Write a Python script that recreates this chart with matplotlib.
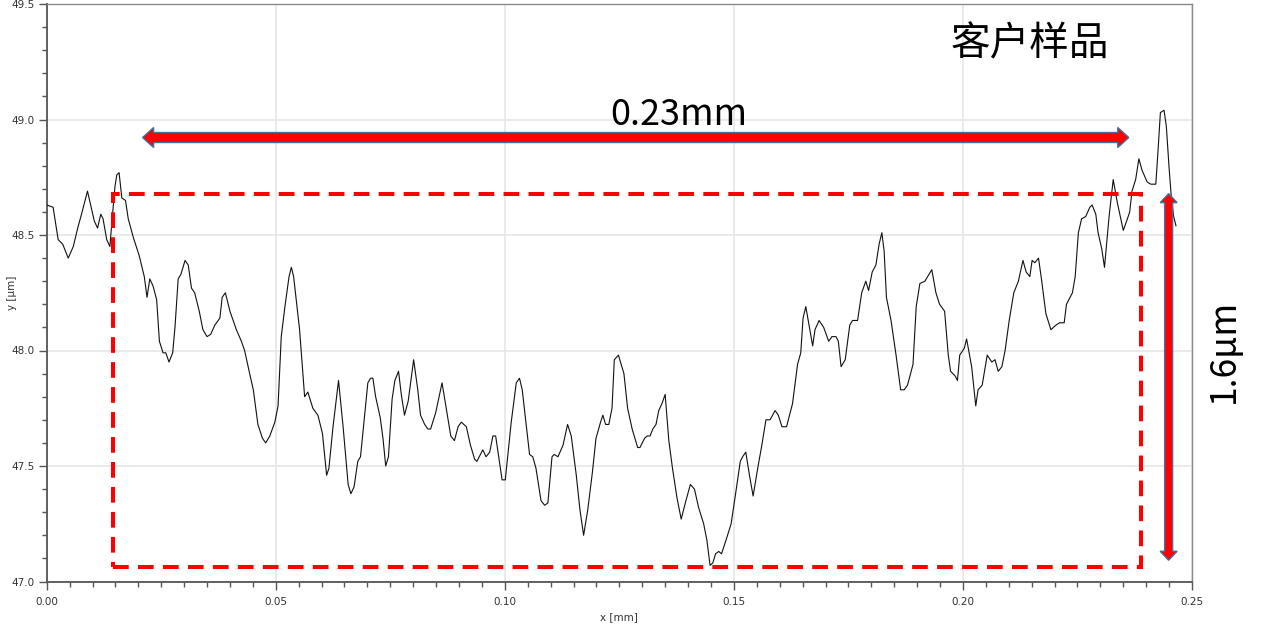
import matplotlib
matplotlib.use("Agg")
import matplotlib.pyplot as plt
import numpy as np
from matplotlib.patches import Polygon, Rectangle
from matplotlib.transforms import IdentityTransform
from matplotlib.ticker import MultipleLocator, FormatStrFormatter

# ---- profile data (x in mm, y in µm) ----
x_mm = [
    0.0000, 0.0014, 0.0025, 0.0035, 0.0047, 0.0058, 0.0069, 0.0076, 0.0089, 0.0104,
    0.0111, 0.0118, 0.0123, 0.0131, 0.0138, 0.0142, 0.0149, 0.0153, 0.0158, 0.0164,
    0.0172, 0.0178, 0.0189, 0.0202, 0.0213, 0.0219, 0.0225, 0.0232, 0.0240, 0.0246,
    0.0254, 0.0260, 0.0267, 0.0275, 0.0280, 0.0287, 0.0293, 0.0302, 0.0309, 0.0316,
    0.0323, 0.0333, 0.0341, 0.0350, 0.0358, 0.0367, 0.0378, 0.0383, 0.0390, 0.0400,
    0.0414, 0.0425, 0.0432, 0.0443, 0.0451, 0.0461, 0.0471, 0.0478, 0.0487, 0.0498,
    0.0505, 0.0512, 0.0520, 0.0529, 0.0534, 0.0539, 0.0552, 0.0563, 0.0570, 0.0581,
    0.0592, 0.0602, 0.0611, 0.0616, 0.0625, 0.0637, 0.0647, 0.0658, 0.0664, 0.0671,
    0.0679, 0.0685, 0.0693, 0.0701, 0.0707, 0.0712, 0.0718, 0.0728, 0.0734, 0.0740,
    0.0746, 0.0754, 0.0760, 0.0768, 0.0774, 0.0781, 0.0789, 0.0801, 0.0810, 0.0816,
    0.0825, 0.0832, 0.0838, 0.0849, 0.0863, 0.0872, 0.0882, 0.0890, 0.0898, 0.0905,
    0.0916, 0.0925, 0.0934, 0.0939, 0.0952, 0.0959, 0.0967, 0.0974, 0.0980, 0.0994,
    0.1001, 0.1014, 0.1025, 0.1032, 0.1038, 0.1054, 0.1061, 0.1068, 0.1079, 0.1087,
    0.1094, 0.1103, 0.1108, 0.1116, 0.1127, 0.1137, 0.1145, 0.1156, 0.1164, 0.1172,
    0.1181, 0.1191, 0.1199, 0.1209, 0.1214, 0.1220, 0.1227, 0.1234, 0.1239, 0.1248,
    0.1260, 0.1268, 0.1278, 0.1290, 0.1295, 0.1305, 0.1311, 0.1317, 0.1323, 0.1330,
    0.1336, 0.1343, 0.1350, 0.1358, 0.1366, 0.1376, 0.1385, 0.1394, 0.1405, 0.1414,
    0.1423, 0.1434, 0.1441, 0.1448, 0.1454, 0.1460, 0.1467, 0.1473, 0.1483, 0.1494,
    0.1503, 0.1514, 0.1519, 0.1526, 0.1534, 0.1542, 0.1552, 0.1561, 0.1570, 0.1579,
    0.1590, 0.1597, 0.1605, 0.1615, 0.1628, 0.1639, 0.1646, 0.1651, 0.1657, 0.1665,
    0.1672, 0.1677, 0.1686, 0.1696, 0.1707, 0.1714, 0.1723, 0.1728, 0.1734, 0.1743,
    0.1753, 0.1759, 0.1770, 0.1779, 0.1788, 0.1794, 0.1802, 0.1810, 0.1817, 0.1823,
    0.1828, 0.1833, 0.1843, 0.1854, 0.1864, 0.1872, 0.1879, 0.1891, 0.1898, 0.1906,
    0.1917, 0.1932, 0.1941, 0.1949, 0.1960, 0.1968, 0.1973, 0.1983, 0.1988, 0.1993,
    0.2003, 0.2008, 0.2019, 0.2028, 0.2033, 0.2042, 0.2053, 0.2063, 0.2070, 0.2077,
    0.2085, 0.2092, 0.2101, 0.2111, 0.2121, 0.2131, 0.2138, 0.2146, 0.2151, 0.2157,
    0.2165, 0.2172, 0.2181, 0.2192, 0.2203, 0.2211, 0.2221, 0.2226, 0.2239, 0.2245,
    0.2252, 0.2259, 0.2268, 0.2277, 0.2282, 0.2290, 0.2295, 0.2303, 0.2309, 0.2319,
    0.2328, 0.2337, 0.2350, 0.2359, 0.2364, 0.2369, 0.2377, 0.2384, 0.2391, 0.2402,
    0.2410, 0.2421, 0.2426, 0.2431, 0.2439, 0.2444, 0.2450, 0.2455, 0.2460, 0.2465,
]
y_um = [
    48.63, 48.62, 48.48, 48.46, 48.40, 48.45, 48.54, 48.59, 48.69, 48.56,
    48.53, 48.59, 48.57, 48.48, 48.45, 48.55, 48.71, 48.76, 48.77, 48.66,
    48.65, 48.57, 48.49, 48.41, 48.32, 48.23, 48.31, 48.28, 48.22, 48.04,
    47.99, 47.99, 47.95, 47.99, 48.10, 48.31, 48.33, 48.39, 48.37, 48.27,
    48.25, 48.17, 48.09, 48.06, 48.07, 48.11, 48.14, 48.23, 48.25, 48.17,
    48.09, 48.04, 48.00, 47.90, 47.83, 47.68, 47.62, 47.60, 47.63, 47.69,
    47.76, 48.06, 48.19, 48.32, 48.36, 48.32, 48.09, 47.80, 47.82, 47.75,
    47.72, 47.64, 47.46, 47.49, 47.67, 47.87, 47.67, 47.42, 47.38, 47.41,
    47.52, 47.54, 47.70, 47.86, 47.88, 47.88, 47.80, 47.71, 47.62, 47.50,
    47.54, 47.79, 47.87, 47.91, 47.81, 47.72, 47.78, 47.96, 47.83, 47.72,
    47.68, 47.66, 47.66, 47.73, 47.86, 47.75, 47.63, 47.61, 47.67, 47.69,
    47.67, 47.59, 47.53, 47.52, 47.57, 47.54, 47.56, 47.63, 47.63, 47.44,
    47.44, 47.69, 47.86, 47.88, 47.83, 47.55, 47.54, 47.49, 47.35, 47.33,
    47.34, 47.54, 47.55, 47.54, 47.59, 47.68, 47.63, 47.46, 47.31, 47.20,
    47.31, 47.47, 47.62, 47.69, 47.72, 47.68, 47.68, 47.75, 47.96, 47.98,
    47.90, 47.75, 47.66, 47.58, 47.58, 47.62, 47.63, 47.63, 47.66, 47.68,
    47.74, 47.77, 47.81, 47.61, 47.49, 47.36, 47.27, 47.34, 47.42, 47.40,
    47.32, 47.25, 47.18, 47.07, 47.08, 47.12, 47.13, 47.12, 47.18, 47.25,
    47.37, 47.52, 47.54, 47.56, 47.46, 47.37, 47.49, 47.59, 47.70, 47.70,
    47.74, 47.72, 47.67, 47.67, 47.77, 47.94, 47.99, 48.14, 48.19, 48.10,
    48.02, 48.09, 48.13, 48.10, 48.04, 48.06, 48.06, 48.04, 47.93, 47.96,
    48.11, 48.13, 48.13, 48.25, 48.30, 48.26, 48.34, 48.37, 48.46, 48.51,
    48.43, 48.23, 48.13, 47.98, 47.83, 47.83, 47.85, 47.94, 48.19, 48.29,
    48.30, 48.35, 48.25, 48.20, 48.17, 47.98, 47.91, 47.89, 47.87, 47.98,
    48.01, 48.05, 47.93, 47.76, 47.83, 47.85, 47.98, 47.95, 47.96, 47.91,
    47.93, 48.00, 48.13, 48.25, 48.30, 48.39, 48.34, 48.32, 48.39, 48.38,
    48.40, 48.30, 48.16, 48.09, 48.11, 48.12, 48.12, 48.20, 48.25, 48.32,
    48.51, 48.57, 48.58, 48.62, 48.63, 48.59, 48.51, 48.44, 48.36, 48.58,
    48.74, 48.64, 48.52, 48.57, 48.60, 48.69, 48.74, 48.83, 48.78, 48.73,
    48.72, 48.72, 48.87, 49.03, 49.04, 48.97, 48.79, 48.66, 48.58, 48.54,
]

x_limits = [0.0, 0.25]
y_limits = [47.0, 49.5]
x_major_step = 0.05
y_major_step = 0.5

# annotation geometry (data units)
box_x = [0.01452, 0.2388]
box_y = [47.063, 48.679]
width_arrow_x = [0.02093, 0.2362]
width_arrow_y = 48.922
height_arrow_x = 0.2449
height_arrow_y = [48.679, 47.092]

width_label = "0.23mm"
height_label = "1.6μm"
title_label = "客户样品"
x_axis_label = "x [mm]"
y_axis_label = "y [µm]"

CJK = ["Noto Sans CJK SC", "DejaVu Sans"]

W, H = 1268, 624
fig = plt.figure(figsize=(W / 100, H / 100), dpi=100)
fig.patch.set_facecolor("white")
ax = fig.add_axes([46.7 / W, 1 - 581.5 / H, (1192 - 46.7) / W, (581.5 - 4) / H])

ax.plot(x_mm, y_um, color="#111111", lw=0.8, zorder=3)

ax.set_xlim(*x_limits)
ax.set_ylim(*y_limits)
ax.xaxis.set_major_locator(MultipleLocator(x_major_step))
ax.xaxis.set_minor_locator(MultipleLocator(0.005))
ax.yaxis.set_major_locator(MultipleLocator(y_major_step))
ax.yaxis.set_minor_locator(MultipleLocator(0.1))
ax.xaxis.set_major_formatter(FormatStrFormatter("%.2f"))
ax.yaxis.set_major_formatter(FormatStrFormatter("%.1f"))

ax.grid(True, which="major", color="#e6e6e6", lw=1.2, zorder=0)
ax.set_axisbelow(True)

for side in ["left", "bottom"]:
    ax.spines[side].set_color("#555555")
    ax.spines[side].set_linewidth(1.3)
for side in ["top", "right"]:
    ax.spines[side].set_color("#8a8a8a")
    ax.spines[side].set_linewidth(1.0)

ax.tick_params(axis="both", which="major", direction="out", length=5.5, width=1.0,
               color="#555555", labelsize=7.5, labelcolor="#333333")
ax.tick_params(axis="both", which="minor", direction="out", length=3.5, width=1.0,
               color="#555555")
ax.tick_params(axis="x", which="major", pad=5.5)
ax.tick_params(axis="y", which="major", pad=3.5)
ax.tick_params(top=False, right=False, which="both")

ax.set_xlabel(x_axis_label, fontsize=7.5, color="#333333", va="center")
ax.set_ylabel(y_axis_label, fontsize=7.5, color="#333333", va="center")
ax.xaxis.set_label_coords(0.5, (581.5 - 617) / 577.5)
ax.yaxis.set_label_coords((12 - 46.7) / 1145.3, 0.5)

fig.canvas.draw()
xt = ax.get_xticklabels()
xt[0].set_horizontalalignment("left")
xt[-1].set_horizontalalignment("right")
yt = ax.get_yticklabels()
yt[0].set_verticalalignment("bottom")
yt[-1].set_verticalalignment("top")

# dashed red box
ax.add_patch(Rectangle((box_x[0], box_y[0]), box_x[1] - box_x[0], box_y[1] - box_y[0],
                       fill=False, edgecolor="#ff0000", lw=2.9,
                       linestyle=(0, (3.9, 2.3)), zorder=4))


def double_arrow(p0, p1, body_w, head_w, head_l):
    P0 = np.array(ax.transData.transform(p0))
    P1 = np.array(ax.transData.transform(p1))
    d = P1 - P0
    u = d / np.hypot(*d)
    n = np.array([-u[1], u[0]])
    pts = [
        P0,
        P0 + u * head_l + n * head_w / 2,
        P0 + u * head_l + n * body_w / 2,
        P1 - u * head_l + n * body_w / 2,
        P1 - u * head_l + n * head_w / 2,
        P1,
        P1 - u * head_l - n * head_w / 2,
        P1 - u * head_l - n * body_w / 2,
        P0 + u * head_l - n * body_w / 2,
        P0 + u * head_l - n * head_w / 2,
    ]
    poly = Polygon(pts, closed=True, facecolor="#ff0000", edgecolor="#41719c",
                   lw=1.0, transform=IdentityTransform(), zorder=6)
    fig.add_artist(poly)


double_arrow((width_arrow_x[0], width_arrow_y), (width_arrow_x[1], width_arrow_y),
             10, 20, 11)
double_arrow((height_arrow_x, height_arrow_y[0]), (height_arrow_x, height_arrow_y[1]),
             8, 17, 9)

# texts
ax.text((679 - 46.7) / 4586, 48.978, width_label, ha="center", va="baseline",
        fontsize=26, family=CJK, weight="light", color="black", zorder=7)
ax.text((1031 - 46.7) / 4586, 49.325, title_label, ha="center", va="center",
        fontsize=28.5, family=CJK, weight="light", color="black", zorder=7)
fig.text(1224 / W, 1 - 351 / H, height_label, ha="center", va="center", rotation=90,
         fontsize=25.5, family=CJK, weight="light", color="black")

fig.savefig("out.png", dpi=100, facecolor="white")
